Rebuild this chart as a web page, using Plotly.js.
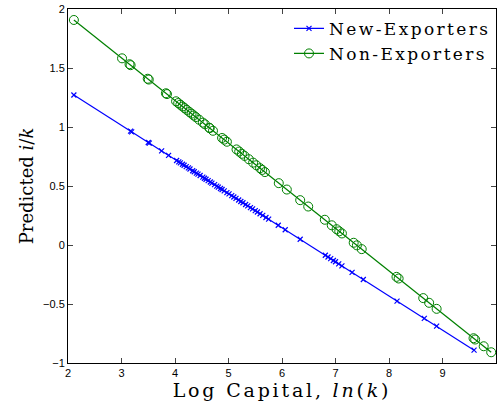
<!DOCTYPE html>
<html>
<head>
<meta charset="utf-8">
<script src="https://cdn.plot.ly/plotly-3.0.1.min.js"></script>
<style>
html,body{margin:0;padding:0;background:#fff;}
#chart{width:502px;height:409px;}
.legendtext{letter-spacing:2.4px;}
.xtitle{letter-spacing:2.8px;}
</style>
</head>
<body>
<div id="chart"></div>
<script>
var newExpX = [2.11,3.17,3.19,3.50,3.52,3.75,3.88,4.03,4.07,4.10,4.14,4.17,4.21,4.25,4.28,4.33,4.36,4.40,4.43,4.47,4.52,4.55,4.58,4.62,4.66,4.69,4.74,4.78,4.81,4.85,4.88,4.92,4.97,5.01,5.06,5.10,5.14,5.19,5.23,5.27,5.32,5.36,5.41,5.45,5.50,5.54,5.59,5.64,5.70,5.75,5.93,6.06,6.34,6.81,6.86,6.91,6.96,7.00,7.06,7.12,7.31,7.52,8.15,8.66,8.89,9.59];
var newExpY = [1.271,0.965,0.959,0.869,0.864,0.797,0.759,0.716,0.705,0.696,0.684,0.676,0.664,0.653,0.644,0.629,0.621,0.609,0.601,0.589,0.575,0.566,0.557,0.546,0.534,0.525,0.511,0.499,0.491,0.479,0.470,0.459,0.444,0.433,0.418,0.407,0.395,0.381,0.369,0.358,0.343,0.332,0.317,0.306,0.291,0.280,0.265,0.251,0.233,0.219,0.167,0.129,0.049,-0.087,-0.102,-0.116,-0.131,-0.142,-0.160,-0.177,-0.232,-0.292,-0.475,-0.622,-0.688,-0.891];
var nonExpX = [2.11,3.01,3.15,3.17,3.49,3.51,3.83,3.85,4.02,4.06,4.10,4.14,4.18,4.22,4.27,4.31,4.35,4.39,4.45,4.52,4.56,4.64,4.65,4.71,4.88,4.92,4.97,5.15,5.20,5.25,5.30,5.38,5.46,5.52,5.59,5.63,5.68,5.94,6.09,6.34,6.49,6.80,6.93,7.02,7.07,7.12,7.34,7.40,7.49,8.14,8.18,8.64,8.75,8.89,9.58,9.61,9.77,9.91];
var nonExpY = [1.907,1.582,1.532,1.524,1.409,1.402,1.286,1.279,1.218,1.203,1.189,1.174,1.160,1.145,1.127,1.113,1.098,1.084,1.062,1.037,1.023,0.994,0.990,0.968,0.907,0.893,0.875,0.810,0.792,0.773,0.755,0.727,0.698,0.676,0.651,0.636,0.618,0.524,0.470,0.380,0.326,0.214,0.167,0.134,0.116,0.098,0.019,-0.003,-0.035,-0.270,-0.284,-0.450,-0.490,-0.541,-0.790,-0.801,-0.858,-0.909];
var xTicks = [2,3,4,5,6,7,8,9,10];
var yTicks = [-1,-0.5,0,0.5,1,1.5,2];
var yTickLabels = ['\u22121','\u22120.5','0','0.5','1','1.5','2'];

var traces = [
  {x:newExpX, y:newExpY, type:'scatter', mode:'lines+markers', name:'New-Exporters',
   line:{color:'rgb(0,0,255)', width:1.2},
   marker:{symbol:'x-thin-open', size:5, color:'rgb(0,0,255)', line:{color:'rgb(0,0,255)', width:1.2}}},
  {x:nonExpX, y:nonExpY, type:'scatter', mode:'lines+markers', name:'Non-Exporters',
   line:{color:'rgb(0,128,0)', width:1.2},
   marker:{symbol:'circle-open', size:9, color:'rgb(0,128,0)', line:{color:'rgb(0,128,0)', width:1}}}
];

var axisCommon = {
  showgrid:false, zeroline:false, showline:true, linecolor:'#000', linewidth:1,
  mirror:'ticks', ticks:'inside', ticklen:5, tickcolor:'#444', tickwidth:1,
  tickfont:{family:'Liberation Sans, Arial, sans-serif', size:11, color:'#000'}
};

var layout = {
  width:502, height:409,
  margin:{l:68, r:6, t:9, b:46},
  paper_bgcolor:'#fff', plot_bgcolor:'#fff',
  showlegend:true,
  legend:{x:1.0, xanchor:'right', y:0.995, yanchor:'top', bgcolor:'rgba(0,0,0,0)', borderwidth:0,
          font:{family:'DejaVu Serif, serif', size:17, color:'#000'}, tracegroupgap:0, itemwidth:30},
  xaxis:Object.assign({}, axisCommon, {range:[2,10], tickvals:xTicks, ticktext:xTicks.map(String),
     title:{text:'Log Capital, <i>ln</i>(<i>k</i>)', font:{family:'DejaVu Serif, serif', size:19, color:'#000'}, standoff:5}}),
  yaxis:Object.assign({}, axisCommon, {range:[-1,2], tickvals:yTicks, ticktext:yTickLabels,
     title:{text:'Predicted <i>i</i>/<i>k</i>', font:{family:'DejaVu Serif, serif', size:18, color:'#000'}, standoff:4}})
};

Plotly.newPlot('chart', traces, layout, {displayModeBar:false, staticPlot:true});
</script>
</body>
</html>
